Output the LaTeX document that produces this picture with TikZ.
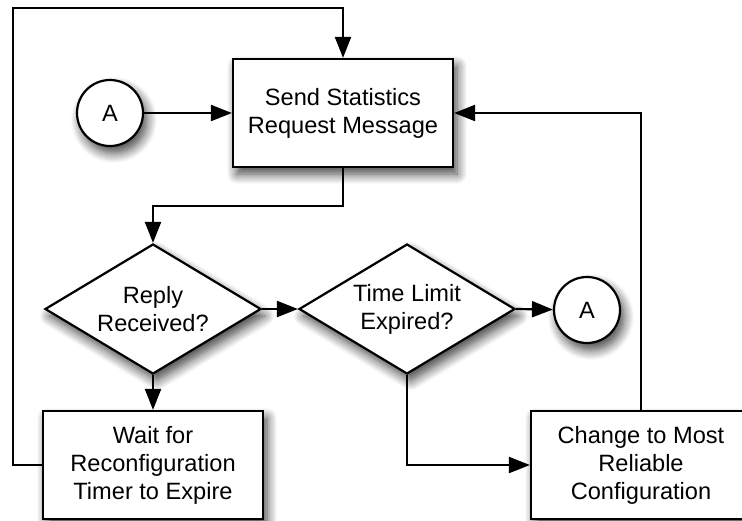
\documentclass[tikz,border=0pt]{standalone}
\usepackage{fontspec}
\setmainfont{Liberation Sans}
\usetikzlibrary{arrows.meta,shapes.geometric,shadows.blur}

\begin{document}
\begin{tikzpicture}[
  x=0.5pt, y=-0.5pt,
  font=\fontsize{11.8pt}{14pt}\selectfont,
  >={Triangle[length=10.5pt,width=8pt]},
  shd/.style = {blur shadow={shadow xshift=2pt, shadow yshift=-3.5pt,
                shadow blur radius=5pt, shadow blur steps=10, shadow opacity=75}},
  blk/.style = {draw, line width=1.1pt, fill=white, shd, align=center,
                minimum width=110pt, minimum height=54pt, inner sep=0pt},
  dec/.style = {draw, diamond, aspect=1.66, line width=1.1pt, fill=white, shd,
                align=center, minimum width=108pt, minimum height=65pt, inner sep=0pt},
  con/.style = {draw, circle, line width=1.1pt, fill=white, shd,
                minimum size=33pt, inner sep=0pt},
  ln/.style  = {line width=1.1pt, ->},
]

\clip (0,0) rectangle (742,520);

\node[blk] (send)   at (343,113) {Send Statistics\\Request Message};
\node[con] (conA)   at (110,113) {A};
\node[dec] (reply)  at (153,309) {Reply\\Received?};
\node[dec] (limit)  at (407,309) {Time Limit\\Expired?};
\node[con] (conB)   at (587,310) {A};
\node[blk] (wait)   at (153,465) {Wait for\\Reconfiguration\\Timer to Expire};
\node[blk] (change) at (641,465) {Change to Most\\Reliable\\Configuration};

\coordinate (fork) at (153,206);
\coordinate (loop) at (13,8);

\draw[ln] (conA)   -- (send);
\draw[ln] (send.south) |- (fork) -- (reply.north);
\draw[ln] (reply.east) -- (limit.west);
\draw[ln] (limit.east) -- (conB);
\draw[ln] (reply.south) -- (wait.north);
\draw[ln] (wait.west) -| (loop) -| (send.north);
\draw[ln] (limit.south) |- (change.west);
\draw[ln] (change.north) |- (send.east);

\end{tikzpicture}
\end{document}
